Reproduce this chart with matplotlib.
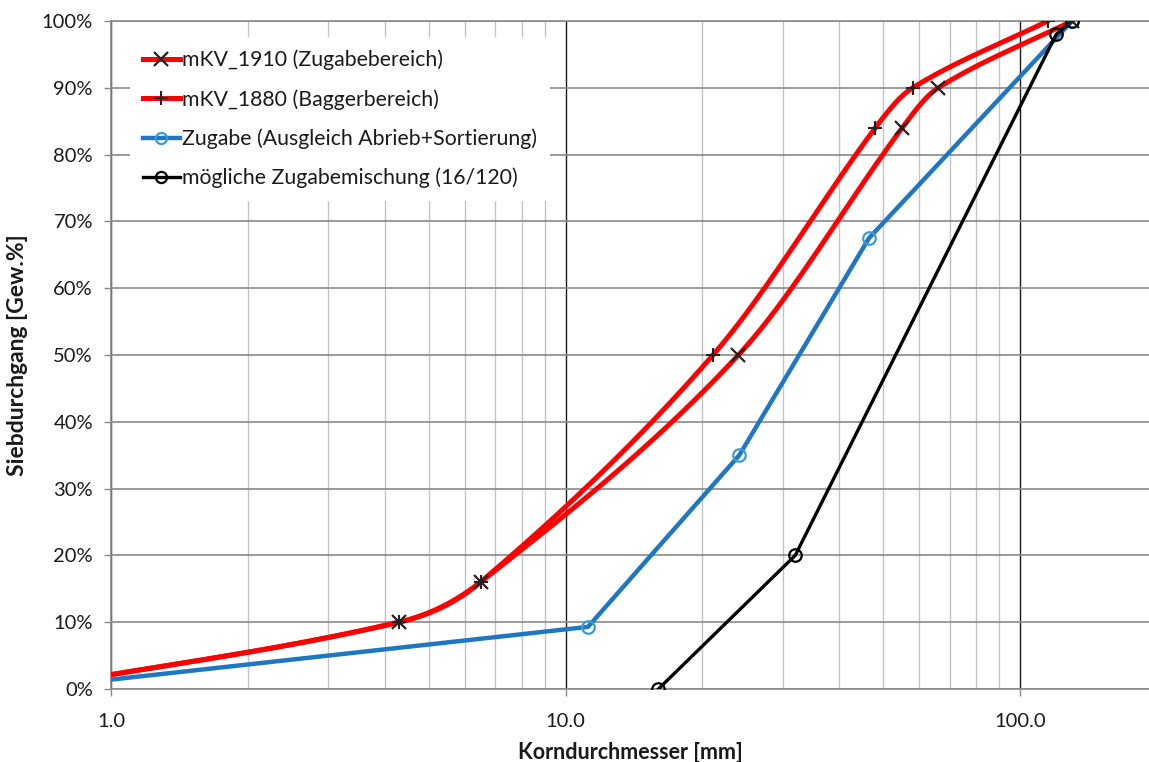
import numpy as np
import matplotlib.pyplot as plt
from matplotlib.ticker import FixedLocator, FuncFormatter, NullFormatter

plt.rcParams['font.family'] = ['Lato', 'DejaVu Sans']

# Sieblinien: Korndurchmesser [mm] / Siebdurchgang [%]
d_1910 = [0.65, 4.3, 6.5, 24.0, 55.0, 66.0, 130.0]
p_1910 = [0.0, 10.0, 16.0, 50.0, 84.0, 90.0, 100.0]

d_1880 = [0.65, 4.3, 6.5, 21.1, 48.0, 58.0, 115.0]
p_1880 = [0.0, 10.0, 16.0, 50.0, 84.0, 90.0, 100.0]

d_zugabe = [0.65, 11.2, 24.1, 46.5, 130.0]
p_zugabe = [0.0, 9.3, 35.0, 67.5, 100.0]

d_misch = [16.0, 32.0, 120.0, 130.0]
p_misch = [0.0, 20.0, 98.0, 100.0]

labels = ['mKV_1910 (Zugabebereich)', 'mKV_1880 (Baggerbereich)',
          'Zugabe (Ausgleich Abrieb+Sortierung)', 'mögliche Zugabemischung (16/120)']


def smooth(xs, ys, n=40):
    # kubische Hermite-Kurve (Cardinal-Spline) im log-x Raum
    x = np.log10(np.asarray(xs, float))
    y = np.asarray(ys, float)
    h = np.diff(x)
    m = np.empty_like(y)
    m[0] = (y[1] - y[0]) / h[0]
    m[-1] = (y[-1] - y[-2]) / h[-1]
    m[1:-1] = (y[2:] - y[:-2]) / (x[2:] - x[:-2])
    ox, oy = [], []
    t = np.linspace(0, 1, n)
    h00 = 2 * t**3 - 3 * t**2 + 1
    h10 = t**3 - 2 * t**2 + t
    h01 = -2 * t**3 + 3 * t**2
    h11 = t**3 - t**2
    for k in range(len(h)):
        ox.append(x[k] + t * h[k])
        oy.append(h00 * y[k] + h10 * h[k] * m[k] + h01 * y[k + 1] + h11 * h[k] * m[k + 1])
    return 10 ** np.concatenate(ox), np.concatenate(oy)


fig = plt.figure(figsize=(11.49, 7.62), dpi=100)
ax = fig.add_axes([0.0966, 0.0958, 0.9034, 0.8766])

red = '#ff0000'
blue = '#1f77c4'
ink = '#1a1a1a'

# geglaettete Linien
sx, sy = smooth(d_1880, p_1880)
ax.plot(sx, sy, color=red, lw=3.6, zorder=3, solid_capstyle='round')
ax.plot(d_1880, p_1880, ls='none', marker='+', ms=10, mew=1.5, color='#222222', zorder=5)
sx, sy = smooth(d_1910, p_1910)
ax.plot(sx, sy, color=red, lw=3.6, zorder=3, solid_capstyle='round')
ax.plot(d_1910, p_1910, ls='none', marker='x', ms=10, mew=1.6, color='#222222', zorder=5)

ax.plot(d_zugabe, p_zugabe, color=blue, lw=3.2, marker='o', ms=9,
        mfc='none', mec='#3d9ad6', mew=1.6, zorder=4)
ax.plot(d_misch, p_misch, color='black', lw=2.4, marker='o', ms=9,
        mfc='none', mec='black', mew=1.6, zorder=4)

# Legendeneintraege
handles = [
    plt.Line2D([], [], color=red, lw=3.6, marker='x', ms=10, mew=1.6, mec='#222222'),
    plt.Line2D([], [], color=red, lw=3.6, marker='+', ms=10, mew=1.5, mec='#222222'),
    plt.Line2D([], [], color=blue, lw=3.2, marker='o', ms=8, mfc='none', mec='#3d9ad6', mew=1.6),
    plt.Line2D([], [], color='black', lw=2.4, marker='o', ms=8, mfc='none', mec='black', mew=1.6),
]
leg = ax.legend(handles, labels, loc='upper left', bbox_to_anchor=(0.0183, 0.976),
                fontsize=15.3, frameon=True, fancybox=False, framealpha=1,
                edgecolor='none', facecolor='white', handlelength=1.75,
                handletextpad=0.1, labelspacing=0.88, borderpad=0.6,
                borderaxespad=0)
leg.set_zorder(6)
for t in leg.get_texts():
    t.set_color(ink)

ax.set_xscale('log')
ax.set_xlim(1, 192)
ax.set_ylim(0, 100)

ax.xaxis.set_major_locator(FixedLocator([1, 10, 100]))
ax.xaxis.set_major_formatter(FuncFormatter(lambda v, p: f'{v:.1f}'))
minor = [m * 10 ** e for e in (0, 1) for m in range(2, 10)]
ax.xaxis.set_minor_locator(FixedLocator(minor))
ax.xaxis.set_minor_formatter(NullFormatter())
ax.set_yticks(np.arange(0, 101, 10))
ax.yaxis.set_major_formatter(FuncFormatter(lambda v, p: f'{v:.0f}%'))

ax.grid(True, which='major', axis='y', color='#8a8a8a', lw=1.2)
ax.grid(True, which='major', axis='x', color=ink, lw=1.0)
ax.grid(True, which='minor', axis='x', color='#c4c4c4', lw=1.0)
ax.set_axisbelow(True)

ax.tick_params(axis='both', which='major', labelsize=14.5, colors=ink,
               length=5, width=1.0, direction='out')
ax.tick_params(axis='x', which='major', pad=12, color='#8a8a8a')
ax.tick_params(axis='y', which='major', pad=8, color='#8a8a8a')
ax.tick_params(axis='x', which='minor', length=0)

ax.spines['right'].set_visible(False)
for s in ('top', 'left', 'bottom'):
    ax.spines[s].set_color('#8a8a8a')
    ax.spines[s].set_linewidth(1.2)

ax.set_xlabel('Korndurchmesser [mm]', fontsize=15.5, fontweight='bold',
              color=ink, labelpad=9)
ax.set_ylabel('Siebdurchgang [Gew.%]', fontsize=16.5, fontweight='bold',
              color=ink, labelpad=10)

fig.savefig('out.png', dpi=100, facecolor='white')
